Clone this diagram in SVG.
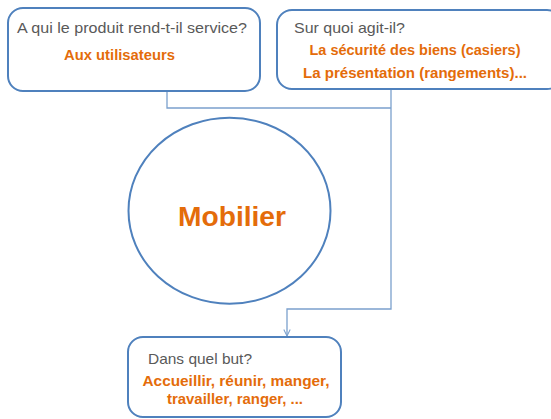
<svg xmlns="http://www.w3.org/2000/svg" width="551" height="419" viewBox="0 0 551 419">
<style>
.box{fill:#fff;stroke:#4F81BD;stroke-width:2}
.q{font-family:"Liberation Sans",Arial,sans-serif;font-size:15px;fill:#595959}
.a{font-family:"Liberation Sans",Arial,sans-serif;font-size:15px;font-weight:bold;fill:#E46C0A}
.big{font-family:"Liberation Sans",Arial,sans-serif;font-size:28px;font-weight:bold;fill:#E46C0A}
.c{fill:none;stroke:#7BA0CD;stroke-width:1.3}
</style>
<defs>
<marker id="arr" viewBox="0 0 10 10" refX="9" refY="5" markerWidth="8" markerHeight="8" orient="auto" markerUnits="userSpaceOnUse">
<path d="M1,1 L9,5 L1,9" fill="none" stroke="#7BA0CD" stroke-width="1.3"/>
</marker>
</defs>
<rect width="551" height="419" fill="#fff"/>
<g id="connectors">
<polyline class="c" points="167,91 167,108 391,108"/>
<polyline class="c" points="391,89 391,309 287,309 287,336" marker-end="url(#arr)"/>
</g>
<g id="node-qui">
<rect class="box" x="8" y="8" width="252" height="83" rx="15"/>
<text class="q" x="17" y="33" textLength="230" lengthAdjust="spacingAndGlyphs">A qui le produit rend-t-il service?</text>
<text class="a" x="64" y="60" textLength="111" lengthAdjust="spacingAndGlyphs">Aux utilisateurs</text>
</g>
<g id="node-quoi">
<rect class="box" x="277" y="10" width="285" height="79" rx="15"/>
<text class="q" x="294" y="33" textLength="111" lengthAdjust="spacingAndGlyphs">Sur quoi agit-il?</text>
<text class="a" x="415" y="55" text-anchor="middle" textLength="211" lengthAdjust="spacingAndGlyphs">La sécurité des biens (casiers)</text>
<text class="a" x="415" y="78" text-anchor="middle" textLength="224" lengthAdjust="spacingAndGlyphs">La présentation (rangements)...</text>
</g>
<g id="node-mobilier">
<ellipse cx="229.5" cy="210.7" rx="101" ry="93" fill="#fff" stroke="#4F81BD" stroke-width="2"/>
<text class="big" x="232" y="226" text-anchor="middle" textLength="108" lengthAdjust="spacingAndGlyphs">Mobilier</text>
</g>
<g id="node-but">
<rect class="box" x="128" y="337" width="213" height="80" rx="15"/>
<text class="q" x="148" y="364" textLength="104" lengthAdjust="spacingAndGlyphs">Dans quel but?</text>
<text class="a" x="236" y="386" text-anchor="middle" textLength="187" lengthAdjust="spacingAndGlyphs">Accueillir, réunir, manger,</text>
<text class="a" x="235" y="404" text-anchor="middle" textLength="136" lengthAdjust="spacingAndGlyphs">travailler, ranger, ...</text>
</g>
</svg>
